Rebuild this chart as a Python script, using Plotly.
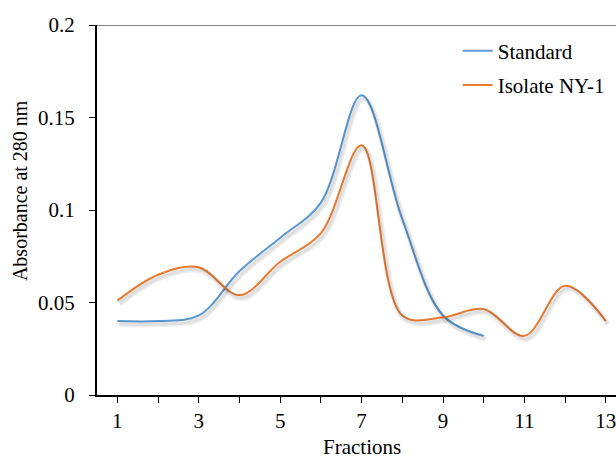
import plotly.graph_objects as go

fractions_std = [1, 2, 3, 4, 5, 6, 7, 8, 9, 10]
standard = [0.040, 0.040, 0.043, 0.067, 0.085, 0.104, 0.162, 0.095, 0.043, 0.032]

fractions_iso = [1, 2, 3, 4, 5, 6, 7, 8, 9, 10, 11, 12, 13]
isolate = [0.051, 0.065, 0.069, 0.054, 0.072, 0.0875, 0.135, 0.043, 0.042, 0.0465, 0.032, 0.059, 0.040]

x_tickvals = [1, 3, 5, 7, 9, 11, 13]
y_tickvals = [0, 0.05, 0.1, 0.15, 0.2]

BLUE = "#5B9BD5"
ORANGE = "#ED7D31"
FONT = "Liberation Serif"
FS = 21

XR = [0.5, 13.25]
YR = [0, 0.2]
# shadow offset (in axis units: ~2px right, ~3px down)
dx = 2 / 40.7
dy = 3 / 1850.0

fig = go.Figure()

# shadows on a slightly shifted overlay axis
for xs, ys in [(fractions_std, standard), (fractions_iso, isolate)]:
    fig.add_trace(go.Scatter(x=xs, y=ys, mode="lines", xaxis="x2", yaxis="y2",
                             line=dict(color="rgba(0,0,0,0.07)", width=6, shape="spline", smoothing=1),
                             showlegend=False, hoverinfo="skip"))
    fig.add_trace(go.Scatter(x=xs, y=ys, mode="lines", xaxis="x2", yaxis="y2",
                             line=dict(color="rgba(0,0,0,0.06)", width=3, shape="spline", smoothing=1),
                             showlegend=False, hoverinfo="skip"))

fig.add_trace(go.Scatter(x=fractions_std, y=standard, mode="lines", name="Standard",
                         legendgroup="a",
                         line=dict(color=BLUE, width=2, shape="spline", smoothing=1)))
fig.add_trace(go.Scatter(x=fractions_iso, y=isolate, mode="lines", name="Isolate NY-1",
                         legendgroup="b",
                         line=dict(color=ORANGE, width=2, shape="spline", smoothing=1)))

fig.update_layout(
    width=616, height=458,
    margin=dict(l=97, r=0, t=25, b=63),
    paper_bgcolor="white", plot_bgcolor="white",
    font=dict(family=FONT, size=FS, color="black"),
    showlegend=True,
    legend=dict(x=0.695, y=0.985, xanchor="left", yanchor="top",
                bgcolor="rgba(0,0,0,0)", font=dict(family=FONT, size=FS, color="black"),
                tracegroupgap=4, itemwidth=30),
    xaxis=dict(range=XR, showgrid=False, zeroline=False,
               showline=True, linecolor="black", linewidth=2,
               tickmode="array", tickvals=x_tickvals, ticks="outside", ticklen=6,
               tickcolor="black", tickwidth=1, ticklabeloverflow="allow",
               minor=dict(dtick=1, tick0=0, ticks="outside", ticklen=6, tickcolor="black", tickwidth=1, showgrid=False),
               tickfont=dict(family=FONT, size=FS)),
    yaxis=dict(range=YR, showgrid=False, zeroline=False,
               showline=True, linecolor="black", linewidth=2,
               tickmode="array", tickvals=y_tickvals, ticks="outside", ticklen=6,
               tickcolor="black", tickwidth=1, ticklabelstandoff=10,
               tickfont=dict(family=FONT, size=FS)),
    xaxis2=dict(range=[XR[0] - dx, XR[1] - dx], overlaying="x", visible=False),
    yaxis2=dict(range=[YR[0] + dy, YR[1] + dy], overlaying="y", visible=False),
    shapes=[dict(type="line", xref="paper", yref="y", x0=0, x1=1, y0=0.2, y1=0.2,
                 line=dict(color="#595959", width=1.5))],
    annotations=[
        dict(text="Fractions", x=7, y=-0.14, xref="x", yref="paper", xanchor="center",
             yanchor="middle", showarrow=False, font=dict(family=FONT, size=FS)),
        dict(text="Absorbance at 280 nm", x=-0.147, y=0.553, xref="paper", yref="paper",
             xanchor="center", yanchor="middle", textangle=-90, showarrow=False,
             font=dict(family=FONT, size=20)),
    ],
)

fig.write_html("out.html")
